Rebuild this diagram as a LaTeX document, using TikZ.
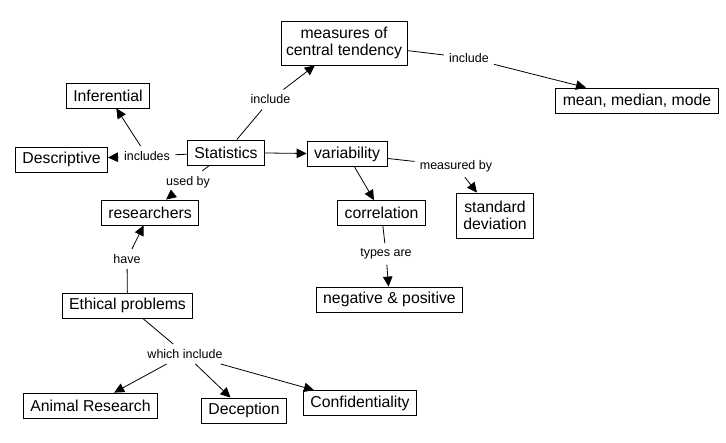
\documentclass[tikz,border=0pt]{standalone}
\usepackage{fontspec}
\setmainfont{Liberation Sans}
\usepackage{tikz}
\usetikzlibrary{arrows.meta}
\tikzstyle{arrowline} = [draw, -{Triangle[length=10pt, width=9.5pt]}]

\begin{document}
\begin{tikzpicture}[x=1pt, y=-1pt, line width=0.8pt,
				concept/.style={draw, rectangle, inner xsep=7pt, inner ysep=2pt, minimum height=25pt, font=\fontsize{15.8}{17}\selectfont},
				link/.style={inner sep=5pt, font=\fontsize{12.5}{14}\selectfont},
				every text node part/.style={align=center}]
				\useasboundingbox (0,0) rectangle (726,443);
				
				\node[concept](node1) at (226,152.5) {Statistics};
				\node[concept](node2) at (108,95.5) {Inferential};
				\node[concept](node3) at (61.5,159.5) {Descriptive};
				
				\node[concept, minimum height=44pt, inner xsep=5pt](node4) at (344,43) {measures of\\central tendency};
				\node[concept](node5) at (637,100.5) {mean, median, mode};
				
				\node[concept](node6) at (347,154) {variability};
				\node[concept, minimum height=45pt](node7) at (495,215.5) {standard\\deviation};
				\node[concept](node8) at (381.5,213) {correlation};
				\node[concept](node9) at (389.5,299.5) {negative \& positive};
				
				\node[concept](node10) at (150,212.5) {researchers};
				\node[concept](node11) at (127.5,305.5) {Ethical problems};
				\node[concept](node12) at (90.5,405.5) {Animal Research};
				\node[concept](node13) at (244,410.5) {Deception};
				\node[concept](node14) at (360,403) {Confidentiality};
				
				% linking phrases
				\node[link](lbl1) at (147,156) {includes};
				\node[link](lbl2) at (270.5,99.5) {include};
				\node[link](lbl3) at (469,58) {include};
				\node[link](lbl4) at (188,182) {used by};
				\node[link](lbl5) at (456,166) {measured by};
				\node[link](lbl6) at (386,254) {types are};
				\node[link](lbl7) at (127,259) {have};
				\node[link](lbl8) at (185,354) {which include};
				
				\draw (node1) -- (lbl1);
				\draw [arrowline] (lbl1) -- (node3);
				\draw [arrowline] (lbl1) -- (node2);
				\draw (node1) -- (lbl2);
				\draw [arrowline] (lbl2) -- (node4);
				\draw (node4) -- (lbl3);
				\draw [arrowline] (lbl3) -- (node5);
				\draw [arrowline] (node1) -- (node6);
				\draw (node1) -- (lbl4);
				\draw [arrowline] (lbl4) -- (node10);
				\draw (node6) -- (lbl5);
				\draw [arrowline] (lbl5) -- (node7);
				\draw [arrowline] (node6) -- (node8);
				\draw (node8) -- (lbl6);
				\draw [arrowline] (lbl6) -- (node9);
				\draw (node11) -- (lbl7);
				\draw [arrowline] (lbl7) -- (node10);
				\draw (node11) -- (lbl8);
				\draw [arrowline] (lbl8) -- (node12);
				\draw [arrowline] (lbl8) -- (node13);
				\draw [arrowline] (lbl8) -- (node14);
				
\end{tikzpicture}
\end{document}
